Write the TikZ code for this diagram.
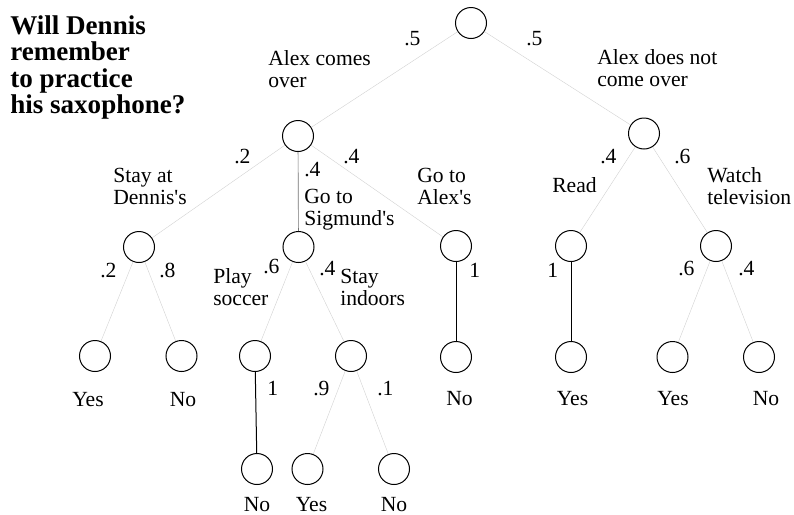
\documentclass[tikz,border=0pt]{standalone}
\usepackage{fontspec}
\setmainfont{Liberation Serif}
\newcommand\twolines[2]{\vtop{\baselineskip=16.5pt\hbox{#1}\hbox{#2}}}
\newcommand\titlelines[4]{\vtop{\baselineskip=19.9pt\hbox{#1}\hbox{#2}\hbox{#3}\hbox{#4}}}
\newcommand\apos{\textquotesingle}
\begin{document}
\begin{tikzpicture}[x=0.75pt,y=-0.75pt,
  st/.style={circle,draw,line width=0.75pt,minimum size=23.25pt,inner sep=0pt},
  lab/.style={anchor=base west,inner sep=0pt,font=\fontsize{16.2}{16.5}\selectfont},
  leaf/.style={anchor=base,inner sep=0pt,font=\fontsize{16.2}{16.5}\selectfont},
  weak/.style={draw=black!18,line width=0.3pt},
  mid/.style={draw=black!55,line width=0.5pt},
  sure/.style={draw=black,line width=0.75pt}]
\useasboundingbox (0,0) rectangle (794,515);

% title
\node[anchor=base west,inner sep=0pt,font=\fontsize{20.3}{19.9}\selectfont\bfseries] (title) at (10,34)
  {\titlelines{Will Dennis}{remember}{to practice}{his saxophone?}};

% states
\node[st] (r)  at (471,23) {};
\node[st] (a)  at (298,136) {};
\node[st] (b)  at (644,133.5) {};
\node[st] (c1) at (139,247) {};
\node[st] (c2) at (298.5,247) {};
\node[st] (c3) at (456,246) {};
\node[st] (c4) at (571,246) {};
\node[st] (c5) at (716,246) {};
\node[st] (d1) at (95,356) {};
\node[st] (d2) at (181.5,356) {};
\node[st] (d3) at (255,356) {};
\node[st] (d4) at (351,356) {};
\node[st] (d5) at (456,357) {};
\node[st] (d6) at (571,357) {};
\node[st] (d7) at (672.5,357) {};
\node[st] (d8) at (759,357) {};
\node[st] (e1) at (257,469) {};
\node[st] (e2) at (307.5,469) {};
\node[st] (e3) at (394,469) {};

% connectors
\draw[weak] (r) -- (a);
\draw[weak] (r) -- (b);
\draw[weak] (a) -- (c1);
\draw[mid] (a) -- (c2);
\draw[weak] (a) -- (c3);
\draw[weak] (b) -- (c4);
\draw[weak] (b) -- (c5);
\draw[weak] (c1) -- (d1);
\draw[weak] (c1) -- (d2);
\draw[weak] (c2) -- (d3);
\draw[weak] (c2) -- (d4);
\draw[sure] (c3) -- (d5);
\draw[sure] (c4) -- (d6);
\draw[weak] (c5) -- (d7);
\draw[weak] (c5) -- (d8);
\draw[sure] (d3) -- (e1);
\draw[weak] (d4) -- (e2);
\draw[weak] (d4) -- (e3);

% probabilities
\node[lab] (pa)  at (404,45) {.5};
\node[lab] (pb)  at (526,45) {.5};
\node[lab] (pc1) at (234,163) {.2};
\node[lab] (pc2) at (304,176) {.4};
\node[lab] (pc3) at (343,163) {.4};
\node[lab] (pc4) at (600,163) {.4};
\node[lab] (pc5) at (674,163) {.6};
\node[lab] (pd1) at (100,277) {.2};
\node[lab] (pd2) at (159,277) {.8};
\node[lab] (pd3) at (263,273) {.6};
\node[lab] (pd4) at (319,275) {.4};
\node[lab] (pd5) at (469,277) {1};
\node[lab] (pd6) at (547,277) {1};
\node[lab] (pd7) at (678,275) {.6};
\node[lab] (pd8) at (738,275) {.4};
\node[lab] (pe1) at (267,395) {1};
\node[lab] (pe2) at (313,395) {.9};
\node[lab] (pe3) at (377,395) {.1};

% event labels
\node[lab] (la)  at (268,65)  {\twolines{Alex comes}{over}};
\node[lab] (lb)  at (597,64)  {\twolines{Alex does not}{come over}};
\node[lab] (lc1) at (113,182) {\twolines{Stay at}{Dennis\apos s}};
\node[lab] (lc2) at (304,203) {\twolines{Go to}{Sigmund\apos s}};
\node[lab] (lc3) at (417,182) {\twolines{Go to}{Alex\apos s}};
\node[lab] (lc4) at (552,192) {Read};
\node[lab] (lc5) at (707,182) {\twolines{Watch}{television}};
\node[lab] (ld3) at (213,283) {\twolines{Play}{soccer}};
\node[lab] (ld4) at (340,283) {\twolines{Stay}{indoors}};

% outcomes
\node[leaf] (o1) at (88,406)    {Yes};
\node[leaf] (o2) at (183,406)   {No};
\node[leaf] (o5) at (459.5,405) {No};
\node[leaf] (o6) at (572.5,405) {Yes};
\node[leaf] (o7) at (673,405)   {Yes};
\node[leaf] (o8) at (766,405)   {No};
\node[leaf] (q1) at (257,511)   {No};
\node[leaf] (q2) at (311.5,511) {Yes};
\node[leaf] (q3) at (394,511)   {No};
\end{tikzpicture}
\end{document}
